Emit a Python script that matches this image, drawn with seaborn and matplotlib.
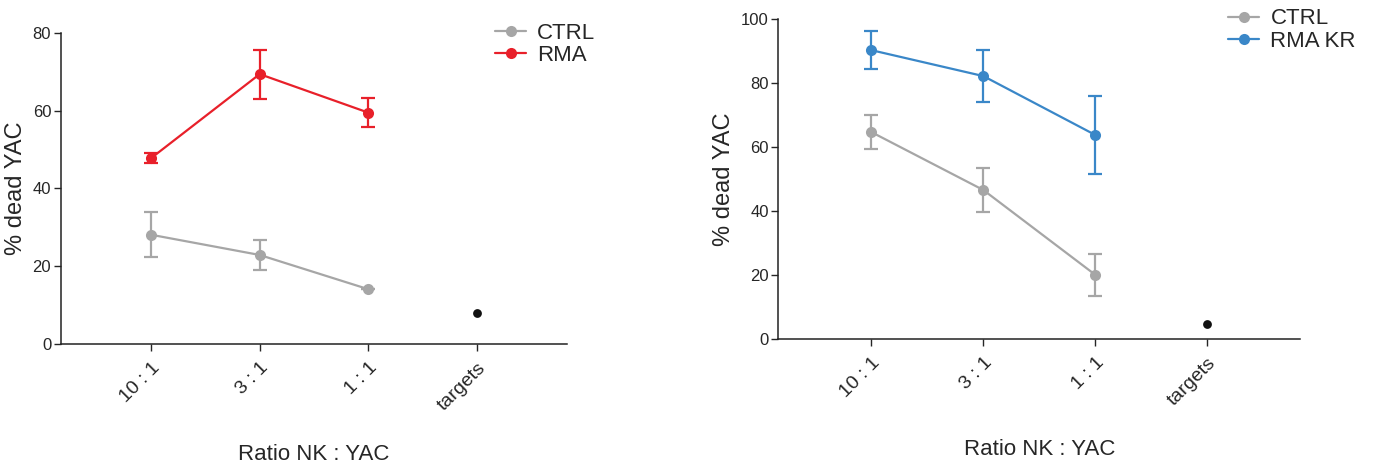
import numpy as np
import pandas as pd
import seaborn as sns
import matplotlib.pyplot as plt

ratios = ["10 : 1", "3 : 1", "1 : 1", "targets"]

# left panel
ctrl_a = [28.1, 22.9, 14.1]
ctrl_a_err = [5.8, 3.9, 0.0]
rma = [47.8, 69.4, 59.5]
rma_err = [1.3, 6.3, 3.8]
targets_a = 8.1

# right panel
ctrl_b = [64.6, 46.5, 20.0]
ctrl_b_err = [5.4, 7.0, 6.5]
rma_kr = [90.2, 82.1, 63.7]
rma_kr_err = [6.0, 8.0, 12.2]
targets_b = 4.8

GRAY = "#a6a6a6"
RED = "#e8202a"
BLUE = "#3a87c8"

sns.set_theme(style="ticks")
plt.rcParams["font.family"] = ["Liberation Sans", "DejaVu Sans"]

fig = plt.figure(figsize=(13.73, 4.70), dpi=100)
ax1 = fig.add_axes([0.0444, 0.268, 0.3686, 0.662])
ax2 = fig.add_axes([0.567, 0.279, 0.380, 0.681])


def panel(ax, ctrl, ctrl_err, treat, treat_err, treat_name, treat_col, tgt, ymax, step, leg_x):
    df = pd.DataFrame({
        "Ratio": ratios[:3] * 2,
        "pct": ctrl + treat,
        "err": ctrl_err + treat_err,
        "group": ["CTRL"] * 3 + [treat_name] * 3,
    })
    df["pos"] = [ratios.index(r) for r in df["Ratio"]]
    pal = {"CTRL": GRAY, treat_name: treat_col}
    for g, sub in df.groupby("group"):
        ax.errorbar(sub["pos"], sub["pct"], yerr=sub["err"], fmt="none",
                    ecolor=pal[g], elinewidth=1.6, capsize=5, capthick=1.6, zorder=2)
    sns.lineplot(data=df, x="pos", y="pct", hue="group", hue_order=["CTRL", treat_name],
                 palette=pal, marker="o", markersize=8, markeredgewidth=0,
                 linewidth=1.6, ax=ax, zorder=3)
    tdf = pd.DataFrame({"pos": [ratios.index("targets")], "pct": [tgt]})
    sns.scatterplot(data=tdf, x="pos", y="pct", color="#111111", s=40,
                    linewidth=0, ax=ax, legend=False, zorder=3)

    ax.set_xlim(-0.83, 3.83)
    ax.set_ylim(0, ymax)
    ax.set_xticks(range(len(ratios)))
    ax.set_xticklabels(ratios, rotation=45, ha="right", rotation_mode="anchor", fontsize=14)
    ax.set_yticks(np.arange(0, ymax + 1, step))
    ax.tick_params(axis="y", labelsize=12, length=5, width=1, pad=2)
    ax.tick_params(axis="x", length=5, width=1, pad=6)
    ax.set_xlabel("Ratio NK : YAC", fontsize=16, labelpad=22)
    ax.set_ylabel("% dead YAC", fontsize=17, labelpad=4)
    for s in ["top", "right"]:
        ax.spines[s].set_visible(False)
    for s in ["left", "bottom"]:
        ax.spines[s].set_linewidth(1.1)
        ax.spines[s].set_color("#222222")

    ax.legend(loc="upper left", bbox_to_anchor=(leg_x, 1.06), frameon=False,
              fontsize=16, handlelength=1.4, handletextpad=0.5, labelspacing=0.05,
              borderaxespad=0)


panel(ax1, ctrl_a, ctrl_a_err, rma, rma_err, "RMA", RED, targets_a, 80, 20, 0.84)
panel(ax2, ctrl_b, ctrl_b_err, rma_kr, rma_kr_err, "RMA KR", BLUE, targets_b, 100, 20, 0.845)

fig.savefig("out.png", dpi=100)
